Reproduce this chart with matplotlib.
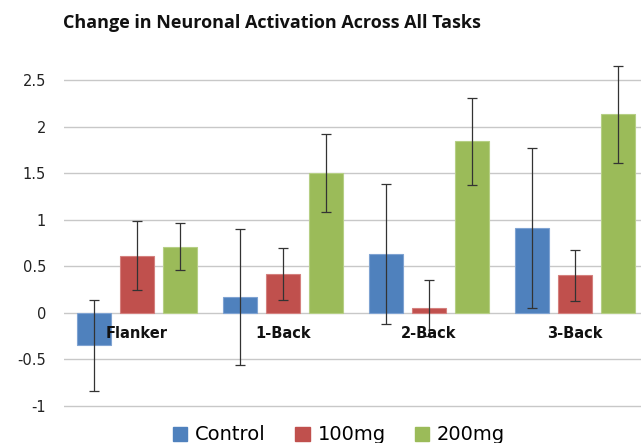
import matplotlib
matplotlib.use("Agg")
import matplotlib.pyplot as plt
import numpy as np

categories = ["Flanker", "1-Back", "2-Back", "3-Back"]
series = ["Control", "100mg", "200mg"]
control = [-0.35, 0.17, 0.63, 0.91]
mg100 = [0.61, 0.42, 0.05, 0.40]
mg200 = [0.71, 1.50, 1.84, 2.13]
control_err = [0.49, 0.73, 0.75, 0.86]
mg100_err = [0.37, 0.28, 0.30, 0.27]
mg200_err = [0.25, 0.42, 0.47, 0.52]
yticks = [-1, -0.5, 0, 0.5, 1, 1.5, 2, 2.5]
ytick_labels = ["-1", "-0.5", "0", "0.5", "1", "1.5", "2", "2.5"]

colors = ["#4F81BD", "#C0504D", "#9BBB59"]
edges = ["#7FA3D2", "#D4807E", "#B6CF85"]

fig = plt.figure(figsize=(6.41, 4.43), dpi=100)
px_per_unit = (405.7 - 80) / 3.5
ymin_val = -1.05
ymax_val = 2.78
y_bottom_px = 443 - (405.7 + 0.05 * px_per_unit)
ax_h_px = (ymax_val - ymin_val) * px_per_unit
ax = fig.add_axes([64/641, y_bottom_px/443, (648-64)/641, ax_h_px/443])
ax.set_ylim(ymin_val, ymax_val)
ax.set_xlim(-0.5, 3.5)

x = np.arange(len(categories))
w = 34/146
off = 43/146
vals = [control, mg100, mg200]
errs = [control_err, mg100_err, mg200_err]
for i, (v, e) in enumerate(zip(vals, errs)):
    ax.bar(x + (i-1)*off, v, width=w, color=colors[i], edgecolor=edges[i],
           linewidth=0.8, label=series[i], zorder=3)
    ax.errorbar(x + (i-1)*off, v, yerr=e, fmt="none", ecolor="#333333",
                elinewidth=0.9, capsize=3.5, capthick=0.9, zorder=4)

ax.set_yticks(yticks)
ax.set_yticklabels(ytick_labels, fontsize=10.5, color="#222222")
ax.set_xticks([])
ax.yaxis.grid(True, color="#C8C8C8", linewidth=1.0, zorder=0)
for s in ax.spines.values():
    s.set_visible(False)
ax.tick_params(axis="y", length=0, pad=13)

for xi, c in zip(x, categories):
    ax.text(xi, -0.22, c, ha="center", va="center", fontsize=10.5,
            fontweight="bold", color="#111111", zorder=5)

fig.text(272/641, 1 - 23/443, "Change in Neuronal Activation Across All Tasks",
         ha="center", va="center", fontsize=13, fontweight="bold",
         family="Open Sans", color="#111111")

handles = [plt.Rectangle((0, 0), 1, 1, color=c) for c in colors]
fig.legend(handles, series, loc="center", bbox_to_anchor=(339/641, 1 - 435/443),
           ncol=3, frameon=False, fontsize=14, handlelength=0.75, handleheight=0.75,
           handletextpad=0.4, columnspacing=1.5)

fig.savefig("out.png", dpi=100)
